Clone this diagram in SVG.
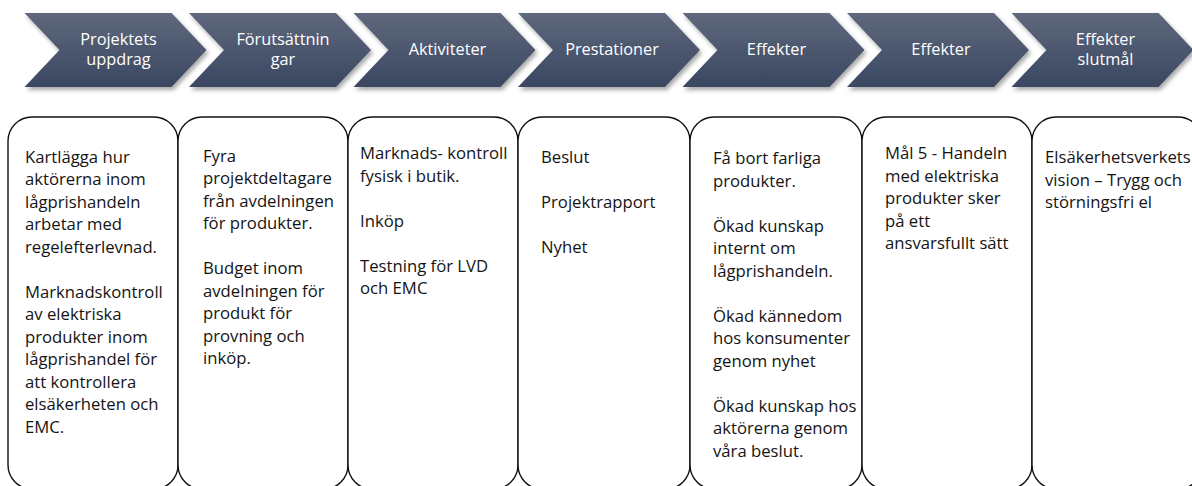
<svg xmlns="http://www.w3.org/2000/svg" width="1192" height="486" viewBox="0 0 1192 486">
  <defs>
    <linearGradient id="chevGrad" x1="0" y1="0" x2="0" y2="1">
      <stop offset="0" stop-color="#5e687c"/>
      <stop offset="1" stop-color="#3a4761"/>
    </linearGradient>
    <filter id="shadow" x="-10%" y="-20%" width="125%" height="150%">
      <feDropShadow dx="2" dy="3" stdDeviation="2.2" flood-color="#000" flood-opacity="0.35"/>
    </filter>
    <path id="chev" d="M0,13 L147,13 L182,50 L147,87 L0,87 L35,50 Z"/>
  </defs>
  <style>
    .chev { fill: url(#chevGrad); filter: url(#shadow); }
    .ctext { font-family: "Open Sans", "Liberation Sans", sans-serif; font-size: 16.3px; fill: #ffffff; text-anchor: middle; }
    .box { fill: #ffffff; stroke: #111111; stroke-width: 1.4; }
    .btext { font-family: "Open Sans", "Liberation Sans", sans-serif; font-size: 16.7px; fill: #141414; }
  </style>
  <rect width="1192" height="486" fill="#ffffff"/>

  <g id="chevrons">
    <g id="chev1"><use href="#chev" x="24.5" class="chev"/>
      <text class="ctext" x="118.5" y="44.5">Projektets</text>
      <text class="ctext" x="118.5" y="64.5">uppdrag</text></g>
    <g id="chev2"><use href="#chev" x="189" class="chev"/>
      <text class="ctext" x="283" y="44.5">Förutsättnin</text>
      <text class="ctext" x="283" y="64.5">gar</text></g>
    <g id="chev3"><use href="#chev" x="353.5" class="chev"/>
      <text class="ctext" x="447.5" y="55">Aktiviteter</text></g>
    <g id="chev4"><use href="#chev" x="518" class="chev"/>
      <text class="ctext" x="612" y="55">Prestationer</text></g>
    <g id="chev5"><use href="#chev" x="682.5" class="chev"/>
      <text class="ctext" x="776.5" y="55">Effekter</text></g>
    <g id="chev6"><use href="#chev" x="847" class="chev"/>
      <text class="ctext" x="941" y="55">Effekter</text></g>
    <g id="chev7"><use href="#chev" x="1011.5" class="chev"/>
      <text class="ctext" x="1105.5" y="44.5">Effekter</text>
      <text class="ctext" x="1105.5" y="64.5">slutmål</text></g>
  </g>

  <g id="connectors"></g>

  <g id="box1">
    <rect class="box" x="8" y="117" width="170" height="372" rx="24" ry="24"/>
    <text class="btext">
      <tspan x="25" y="162.7">Kartlägga hur</tspan>
      <tspan x="25" y="185.2">aktörerna inom</tspan>
      <tspan x="25" y="207.7">lågprishandeln</tspan>
      <tspan x="25" y="230.2">arbetar med</tspan>
      <tspan x="25" y="252.7">regelefterlevnad.</tspan>
      <tspan x="25" y="297.7">Marknadskontroll</tspan>
      <tspan x="25" y="320.2">av elektriska</tspan>
      <tspan x="25" y="342.7">produkter inom</tspan>
      <tspan x="25" y="365.2">lågprishandel för</tspan>
      <tspan x="25" y="387.7">att kontrollera</tspan>
      <tspan x="25" y="410.2">elsäkerheten och</tspan>
      <tspan x="25" y="432.7">EMC.</tspan>
    </text>
  </g>

  <g id="box2">
    <rect class="box" x="178" y="117" width="170" height="372" rx="24" ry="24"/>
    <text class="btext">
      <tspan x="203" y="161.7">Fyra</tspan>
      <tspan x="203" y="184.2">projektdeltagare</tspan>
      <tspan x="203" y="206.7">från avdelningen</tspan>
      <tspan x="203" y="229.2">för produkter.</tspan>
      <tspan x="203" y="274.2">Budget inom</tspan>
      <tspan x="203" y="296.7">avdelningen för</tspan>
      <tspan x="203" y="319.2">produkt för</tspan>
      <tspan x="203" y="341.7">provning och</tspan>
      <tspan x="203" y="364.2">inköp.</tspan>
    </text>
  </g>

  <g id="box3">
    <rect class="box" x="348" y="117" width="170" height="372" rx="24" ry="24"/>
    <text class="btext">
      <tspan x="360" y="159.3">Marknads- kontroll</tspan>
      <tspan x="360" y="181.8">fysisk i butik.</tspan>
      <tspan x="360" y="226.8">Inköp</tspan>
      <tspan x="360" y="271.8">Testning för LVD</tspan>
      <tspan x="360" y="294.3">och EMC</tspan>
    </text>
  </g>

  <g id="box4">
    <rect class="box" x="518" y="117" width="172" height="372" rx="24" ry="24"/>
    <text class="btext">
      <tspan x="541" y="162.7">Beslut</tspan>
      <tspan x="541" y="207.7">Projektrapport</tspan>
      <tspan x="541" y="252.7">Nyhet</tspan>
    </text>
  </g>

  <g id="box5">
    <rect class="box" x="690" y="117" width="172" height="372" rx="24" ry="24"/>
    <text class="btext">
      <tspan x="713" y="164">Få bort farliga</tspan>
      <tspan x="713" y="186.5">produkter.</tspan>
      <tspan x="713" y="231.5">Ökad kunskap</tspan>
      <tspan x="713" y="254">internt om</tspan>
      <tspan x="713" y="276.5">lågprishandeln.</tspan>
      <tspan x="713" y="321.5">Ökad kännedom</tspan>
      <tspan x="713" y="344">hos konsumenter</tspan>
      <tspan x="713" y="366.5">genom nyhet</tspan>
      <tspan x="713" y="411.5">Ökad kunskap hos</tspan>
      <tspan x="713" y="434">aktörerna genom</tspan>
      <tspan x="713" y="456.5">våra beslut.</tspan>
    </text>
  </g>

  <g id="box6">
    <rect class="box" x="862" y="117" width="170" height="372" rx="24" ry="24"/>
    <text class="btext">
      <tspan x="885" y="159">Mål 5 - Handeln</tspan>
      <tspan x="885" y="181.5">med elektriska</tspan>
      <tspan x="885" y="204">produkter sker</tspan>
      <tspan x="885" y="226.5">på ett</tspan>
      <tspan x="885" y="249">ansvarsfullt sätt</tspan>
    </text>
  </g>

  <g id="box7">
    <rect class="box" x="1032" y="117" width="170" height="372" rx="24" ry="24"/>
    <text class="btext">
      <tspan x="1045" y="163.3">Elsäkerhetsverkets</tspan>
      <tspan x="1045" y="185.8">vision – Trygg och</tspan>
      <tspan x="1045" y="208.3">störningsfri el</tspan>
    </text>
  </g>
</svg>
